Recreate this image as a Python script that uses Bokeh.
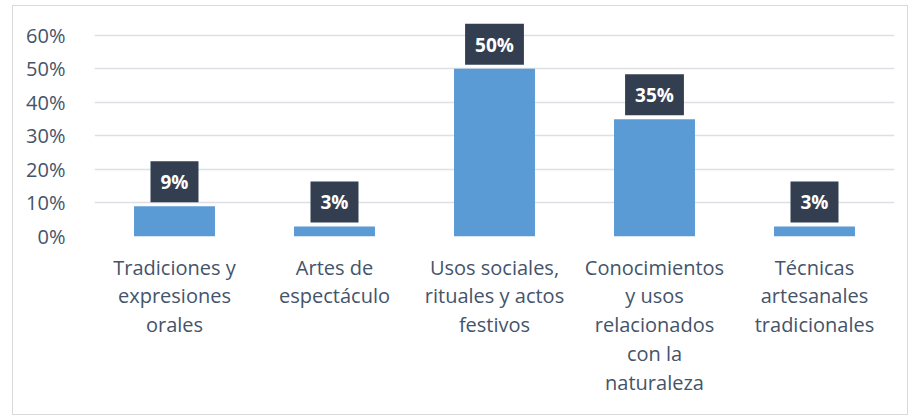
from bokeh.plotting import figure
from bokeh.models import ColumnDataSource, FixedTicker, NumeralTickFormatter, Range1d
from bokeh.core.properties import value
from bokeh.embed import file_html
from bokeh.resources import INLINE

categories = [
    "Tradiciones y\nexpresiones\norales",
    "Artes de\nespectáculo",
    "Usos sociales,\nrituales y actos\nfestivos",
    "Conocimientos\ny usos\nrelacionados\ncon la\nnaturaleza",
    "Técnicas\nartesanales\ntradicionales",
]
values = [0.09, 0.03, 0.50, 0.35, 0.03]
y_ticks = [0.0, 0.1, 0.2, 0.3, 0.4, 0.5, 0.6]

FONT = "Open Sans"
TXT = "#44546A"

source = ColumnDataSource(data=dict(
    cat=categories,
    val=values,
    lbl=[f"{round(v * 100)}%" for v in values],
))

p = figure(
    x_range=categories,
    y_range=Range1d(0, 0.68),
    frame_width=800, frame_height=228,
    min_border_left=81, min_border_right=13,
    min_border_top=2, min_border_bottom=178,
    output_backend="svg", toolbar_location=None,
)
p.styles = {"border": "1px solid #D9D9D9", "margin-left": "12px", "margin-top": "5px"}
p.outline_line_color = None
p.background_fill_color = "white"
p.border_fill_color = "white"

p.vbar(x="cat", top="val", width=0.506, source=source,
       fill_color="#5B9BD5", line_color=None)

p.text(
    x="cat", y="val", text="lbl", source=source,
    y_offset=-4, text_align="center", text_baseline="bottom",
    text_color="white", text_font=value(FONT), text_font_style="bold",
    text_font_size="19px",
    background_fill_color="#333F50",
    padding=dict(left=10, right=10, top=8, bottom=7),
)

p.xgrid.grid_line_color = None
p.ygrid.grid_line_color = "#DCDFE4"
p.ygrid.grid_line_width = 1.5
p.yaxis.ticker = FixedTicker(ticks=y_ticks)
p.yaxis.formatter = NumeralTickFormatter(format="0%")

for ax in (p.xaxis[0], p.yaxis[0]):
    ax.axis_line_color = None
    ax.major_tick_line_color = None
    ax.minor_tick_line_color = None
    ax.major_label_text_font = FONT
    ax.major_label_text_font_size = "20px"
    ax.major_label_text_color = TXT

p.yaxis.major_label_standoff = 23
p.xaxis.major_label_standoff = 11
p.xaxis.major_label_text_line_height = 1.07
p.x_range.range_padding = 0

open("out.html", "w").write(file_html(p, INLINE))
